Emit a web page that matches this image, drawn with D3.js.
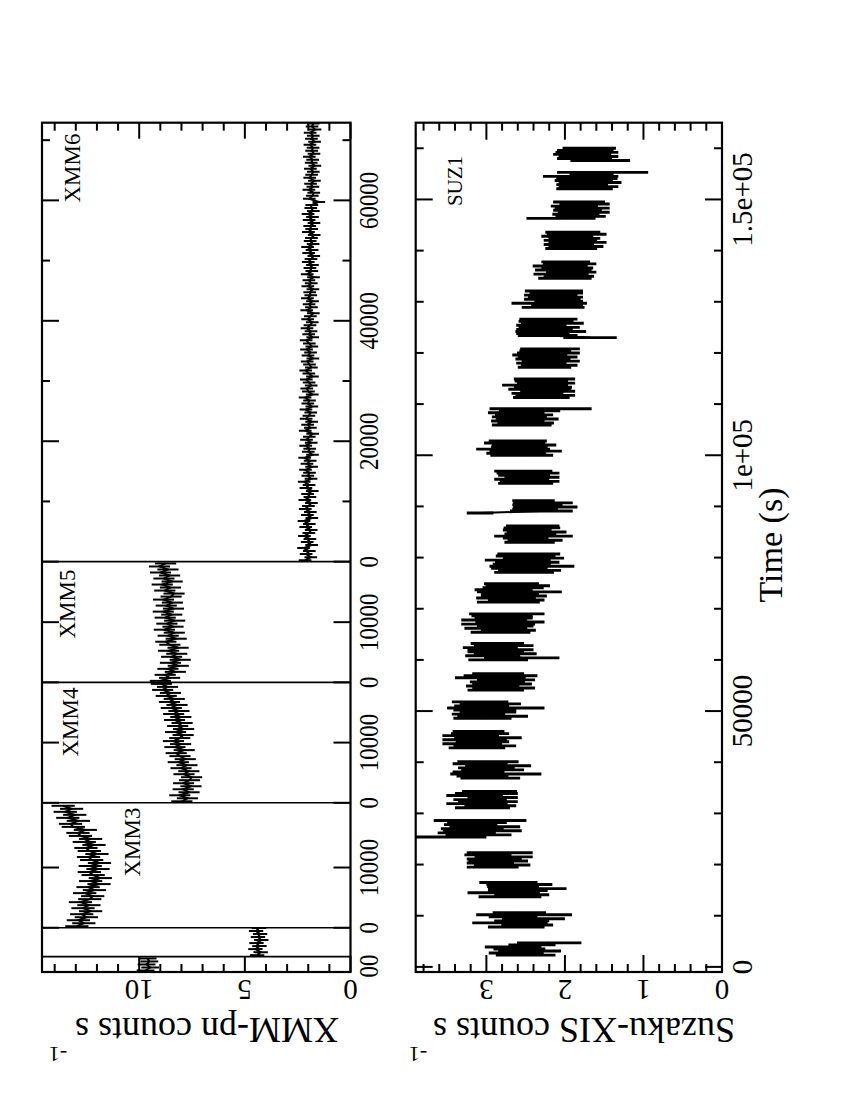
<!DOCTYPE html>
<html><head><meta charset="utf-8">
<script src="https://cdn.jsdelivr.net/npm/d3@7"></script>
<style>body{margin:0;background:#fff} svg{display:block}</style>
</head><body><svg id="c" width="850" height="1100"></svg>
<script>
// ---------------- DATA ----------------
// XMM-Newton pn light curves (counts/s), one array per observation, 500 s bins
const xmmNames = ["XMM1","XMM2","XMM3","XMM4","XMM5","XMM6"];
const xmmSpan  = [2550, 4800, 20750, 20000, 20050, 72900];   // time-axis length of each sub-panel (s)
const xmmBin   = 500;
const xmmErr   = [0.42, 0.34, 0.55, 0.50, 0.50, 0.30];
const xmm1 = [9.70, 9.48, 9.65, 9.52, 9.60];
const xmm2 = [4.42, 4.25, 4.50, 4.31, 4.45, 4.22, 4.38, 4.28, 4.47, 4.33];
const xmm3 = [12.95, 12.62, 12.88, 12.50, 12.72, 12.30, 12.66, 12.38, 12.78, 12.34,
              12.20, 12.58, 12.12, 12.42, 11.90, 12.30, 11.84, 12.18, 12.36, 11.95,
              12.32, 11.88, 12.25, 12.40, 12.00, 12.36, 12.52, 12.14, 12.60, 12.30,
              12.78, 12.90, 12.55, 13.12, 13.25, 12.88, 13.38, 13.05, 13.50, 13.20, 13.60];
const xmm4 = [7.98, 7.72, 8.08, 7.64, 7.92, 7.55, 7.90, 7.62, 7.52, 7.88,
              7.65, 8.02, 7.74, 8.15, 7.82, 8.07, 8.25, 7.87, 8.31, 8.04,
              8.38, 8.08, 7.92, 8.28, 7.90, 8.18, 7.97, 8.33, 8.03, 8.37,
              8.12, 8.48, 8.21, 8.57, 8.34, 8.72, 8.52, 8.89, 8.66, 8.95];
const xmm5 = [9.00, 8.56, 8.77, 8.29, 8.64, 8.15, 8.52, 8.06, 8.47, 8.22,
              8.61, 8.16, 8.55, 8.74, 8.25, 8.63, 8.34, 8.81, 8.40, 8.69,
              8.32, 8.77, 8.46, 8.86, 8.38, 8.72, 8.43, 8.85, 8.49, 8.35,
              8.79, 8.52, 8.91, 8.44, 8.83, 8.56, 8.99, 8.64, 9.04, 8.75];
const xmm6 = [2.15, 1.88, 2.10, 1.95, 2.22, 1.84, 2.05, 1.92, 2.18, 1.97,
              1.86, 2.12, 1.95, 2.20, 1.83, 2.04, 1.90, 2.14, 1.99, 1.85,
              2.16, 1.92, 2.03, 1.81, 2.11, 1.96, 2.19, 1.87, 2.02, 1.94,
              2.13, 1.84, 2.06, 1.91, 2.17, 1.80, 2.00, 1.93, 2.12, 1.86,
              2.08, 1.95, 1.79, 2.14, 1.90, 2.03, 1.84, 2.10, 1.97, 1.88,
              2.11, 1.83, 2.02, 1.94, 2.15, 1.81, 1.99, 2.07, 1.86, 1.96,
              2.09, 1.80, 1.97, 2.12, 1.85, 1.94, 2.05, 1.78, 2.01, 1.89,
              2.08, 1.83, 1.95, 2.10, 1.79, 1.98, 1.87, 2.06, 1.92, 1.81,
              2.03, 1.90, 1.76, 2.07, 1.85, 1.96, 1.80, 2.04, 1.88, 1.93,
              1.78, 2.02, 1.86, 1.97, 1.75, 2.05, 1.83, 1.92, 1.80, 2.00,
              1.87, 1.74, 1.98, 1.82, 2.03, 1.77, 1.91, 1.85, 1.72, 1.99,
              1.84, 1.93, 1.73, 1.96, 1.80, 2.01, 1.76, 1.88, 1.83, 1.50,
              1.95, 1.81, 1.74, 1.97, 1.78, 1.89, 1.71, 1.93, 1.84, 1.76,
              1.90, 1.69, 1.86, 1.79, 1.95, 1.73, 1.84, 1.77, 1.92, 1.70,
              1.85, 1.76, 1.91, 1.68, 1.82, 1.77];
const xmmSeries = [xmm1, xmm2, xmm3, xmm4, xmm5, xmm6];

// XMM time-axis ticks per sub-panel
const xmmMajor = [[], [], [0, 10000], [0, 10000], [0, 10000], [0, 20000, 40000, 60000]];
const xmmMinor = [[], [], [], [], [], [10000, 30000, 50000, 70000]];
const xmmTickLabels = [[], [], ["0","10000"], ["0","10000"], ["0","10000"], ["0","20000","40000","60000"]];
const xmmClipLabel = {seg: 0, t: 1000, text: "00"};
const xmmRateDomain = [0, 14.6];
const xmmRateMajor = [0, 5, 10];
const xmmRateMinor = [1, 2, 3, 4, 6, 7, 8, 9, 11, 12, 13, 14];
const xmmRateLabels = ["0", "5", "10"];

// Suzaku XIS light curve: one array per orbit-block, 400 s bins
const suzBin = 400;
const suzStart = [2300, 7800, 13700, 19500, 25400, 31100, 36900, 42800, 48600, 54100,
                  60000, 65400, 71300, 77100, 83000, 88700, 94500, 100000, 105900, 111300,
                  117200, 123000, 128900, 134600, 140400, 146300, 152100, 157600];
const suzRate = [
  [2.50, 2.62, 2.45, 2.58, 2.66, 2.42, 2.20],
  [2.62, 2.48, 2.70, 2.55, 2.40, 2.66, 2.52, 2.58],
  [2.70, 2.55, 2.78, 2.60, 2.48, 2.66, 2.58, 2.72],
  [2.92, 2.80, 2.95, 2.85, 2.90, 2.78, 2.98, 2.83],
  [3.45, 3.10, 3.25, 3.05, 3.18, 3.02, 3.20, 3.12, 3.08],
  [3.05, 2.95, 3.12, 2.98, 3.08, 2.92, 3.15, 3.00, 2.96],
  [2.95, 3.05, 2.88, 3.10, 2.92, 3.00, 2.85, 3.08, 2.98],
  [3.12, 3.02, 3.18, 3.05, 3.15, 2.98, 3.20, 3.08, 3.10],
  [3.05, 2.92, 3.10, 2.98, 3.02, 2.88, 3.06, 2.95, 3.08],
  [2.88, 2.78, 2.92, 2.80, 2.86, 2.75, 2.95, 2.82, 2.85],
  [2.85, 2.55, 2.92, 2.76, 2.88, 2.82, 2.95, 2.78, 2.86],
  [2.82, 2.72, 2.88, 2.76, 2.85, 2.70, 2.90, 2.78, 2.80, 2.74],
  [2.72, 2.62, 2.75, 2.65, 2.70, 2.58, 2.78, 2.66, 2.60, 2.68],
  [2.52, 2.45, 2.58, 2.42, 2.55, 2.48, 2.60, 2.40, 2.50, 2.46],
  [2.45, 2.38, 2.50, 2.40, 2.44, 2.36, 2.48, 2.42, 2.41],
  [3.08, 2.30, 2.38, 2.25, 2.35, 2.28, 2.40],
  [2.50, 2.45, 2.55, 2.42, 2.52, 2.47, 2.53],
  [2.55, 2.62, 2.50, 2.66, 2.58, 2.52, 2.64, 2.60],
  [2.55, 2.50, 2.60, 2.48, 2.58, 2.52, 2.62, 2.45, 2.31],
  [2.30, 2.25, 2.35, 2.22, 2.32, 2.28, 2.38, 2.24, 2.30, 2.26],
  [2.26, 2.20, 2.30, 2.18, 2.28, 2.22, 2.32, 2.21, 2.25, 2.19],
  [1.68, 2.22, 2.28, 2.18, 2.26, 2.20, 2.30, 2.16, 2.24, 2.21],
  [2.15, 2.10, 2.20, 2.08, 2.16, 2.12, 2.18, 2.11, 2.14],
  [2.00, 1.95, 2.05, 1.92, 2.02, 1.97, 2.06, 1.94, 1.99],
  [1.92, 1.86, 1.95, 1.84, 1.93, 1.88, 1.97, 1.85, 1.90],
  [2.05, 1.80, 1.86, 1.76, 1.84, 1.78, 1.88, 1.75, 1.82],
  [1.75, 1.70, 1.78, 1.68, 1.76, 1.72, 1.80, 1.66, 1.52],
  [1.55, 1.75, 1.70, 1.78, 1.72, 1.74, 1.69]
];
const suzErr = [
  [0.38, 0.35, 0.40, 0.33, 0.36, 0.30, 0.41],
  [0.36, 0.33, 0.48, 0.35, 0.40, 0.31, 0.61, 0.34],
  [0.40, 0.35, 0.46, 0.38, 0.50, 0.33, 0.42, 0.37],
  [0.33, 0.36, 0.30, 0.38, 0.35, 0.37, 0.30, 0.42],
  [0.45, 0.42, 0.37, 0.50, 0.40, 0.45, 0.34, 0.38, 0.59],
  [0.35, 0.33, 0.39, 0.38, 0.34, 0.32, 0.36, 0.40, 0.35],
  [0.38, 0.33, 0.58, 0.33, 0.40, 0.36, 0.42, 0.35, 0.39],
  [0.36, 0.40, 0.38, 0.34, 0.41, 0.43, 0.36, 0.37, 0.33],
  [0.37, 0.45, 0.34, 0.36, 0.40, 0.62, 0.35, 0.39, 0.36],
  [0.36, 0.40, 0.34, 0.38, 0.35, 0.37, 0.45, 0.47, 0.33],
  [0.38, 0.48, 0.35, 0.40, 0.36, 0.42, 0.35, 0.38, 0.34],
  [0.38, 0.35, 0.40, 0.36, 0.47, 0.44, 0.42, 0.37, 0.39, 0.48],
  [0.40, 0.36, 0.38, 0.42, 0.37, 0.54, 0.37, 0.39, 0.41, 0.35],
  [0.38, 0.40, 0.36, 0.54, 0.37, 0.41, 0.42, 0.39, 0.38, 0.40],
  [0.32, 0.35, 0.29, 0.50, 0.33, 0.38, 0.31, 0.36, 0.34],
  [0.17, 0.40, 0.29, 0.41, 0.32, 0.38, 0.27],
  [0.35, 0.38, 0.35, 0.35, 0.33, 0.40, 0.37],
  [0.40, 0.38, 0.46, 0.47, 0.36, 0.41, 0.39, 0.37],
  [0.38, 0.36, 0.34, 0.40, 0.35, 0.37, 0.36, 0.39, 0.65],
  [0.36, 0.38, 0.33, 0.35, 0.40, 0.37, 0.42, 0.37, 0.34, 0.39],
  [0.34, 0.36, 0.32, 0.37, 0.35, 0.38, 0.35, 0.40, 0.33, 0.38],
  [0.34, 0.38, 0.34, 0.45, 0.36, 0.39, 0.32, 0.40, 0.35, 0.37],
  [0.40, 0.33, 0.48, 0.31, 0.36, 0.35, 0.34, 0.34, 0.37],
  [0.34, 0.32, 0.35, 0.32, 0.36, 0.33, 0.35, 0.34, 0.31],
  [0.33, 0.35, 0.32, 0.37, 0.34, 0.33, 0.33, 0.38, 0.35],
  [0.44, 0.32, 0.30, 0.33, 0.31, 0.35, 0.30, 0.32, 0.33],
  [0.36, 0.38, 0.33, 0.40, 0.37, 0.39, 0.48, 0.28, 0.58],
  [0.38, 0.35, 0.38, 0.37, 0.40, 0.36, 0.34]
];
const suzTimeDomain = [-1000, 165000];
const suzTimeMajor = [0, 50000, 100000, 150000];
const suzTimeLabels = ["0", "50000", "1e+05", "1.5e+05"];
const suzTimeMinor = [10000, 20000, 30000, 40000, 60000, 70000, 80000, 90000, 110000, 120000, 130000, 140000, 160000];
const suzRateDomain = [0, 3.9];
const suzRateMajor = [0, 1, 2, 3];
const suzRateLabels = ["0", "1", "2", "3"];
const suzRateMinor = [0.2, 0.4, 0.6, 0.8, 1.2, 1.4, 1.6, 1.8, 2.2, 2.4, 2.6, 2.8, 3.2, 3.4, 3.6, 3.8];

// ---------------- DRAWING ----------------
const FONT = "'Liberation Serif', 'Times New Roman', serif";
const svg = d3.select("#c");
svg.append("rect").attr("width", 850).attr("height", 1100).attr("fill", "#fff");

const P1 = {x0: 42, x1: 350.5, y0: 122.7, y1: 972};
const P2 = {x0: 415.7, x1: 722, y0: 122.7, y1: 972};

const xX = d3.scaleLinear().domain(xmmRateDomain).range([P1.x1, P1.x0]);
const xS = d3.scaleLinear().domain(suzRateDomain).range([P2.x1, P2.x0]);
const yS = d3.scaleLinear().domain(suzTimeDomain).range([P2.y1, P2.y0]);

const total = d3.sum(xmmSpan);
const yOuter = d3.scaleLinear().domain([0, total]).range([P1.y1, P1.y0]);
let cum = 0;
const segY = xmmSpan.map(s => {
  const sc = d3.scaleLinear().domain([0, s]).range([yOuter(cum), yOuter(cum + s)]);
  cum += s; return sc;
});

const defs = svg.append("defs");
defs.append("clipPath").attr("id", "clip1").append("rect")
  .attr("x", P1.x0).attr("y", P1.y0).attr("width", P1.x1 - P1.x0).attr("height", P1.y1 - P1.y0);
defs.append("clipPath").attr("id", "clip2").append("rect")
  .attr("x", P2.x0).attr("y", P2.y0).attr("width", P2.x1 - P2.x0).attr("height", P2.y1 - P2.y0);

// --- XMM data ---
const g1 = svg.append("g").attr("clip-path", "url(#clip1)");
xmmSeries.forEach((arr, k) => {
  const ys = segY[k];
  const pts = arr.map((r, i) => ({t: xmmBin / 2 + i * xmmBin, r}));
  g1.append("path").datum(pts)
    .attr("d", d3.line().x(d => xX(d.r)).y(d => ys(d.t)))
    .attr("fill", "none").attr("stroke", "#000").attr("stroke-width", 2);
  g1.selectAll(null).data(pts).enter().append("line")
    .attr("x1", d => xX(d.r - xmmErr[k])).attr("x2", d => xX(d.r + xmmErr[k]))
    .attr("y1", d => ys(d.t)).attr("y2", d => ys(d.t))
    .attr("stroke", "#000").attr("stroke-width", 2);
});

// --- Suzaku data ---
const g2 = svg.append("g").attr("clip-path", "url(#clip2)");
suzRate.forEach((blk, b) => {
  const pts = blk.map((r, i) => ({t: suzStart[b] + i * suzBin, r, e: suzErr[b][i]}));
  g2.append("path").datum(pts)
    .attr("d", d3.line().x(d => xS(d.r)).y(d => yS(d.t)))
    .attr("fill", "none").attr("stroke", "#000").attr("stroke-width", 2);
  g2.selectAll(null).data(pts).enter().append("line")
    .attr("x1", d => xS(d.r - d.e)).attr("x2", d => xS(d.r + d.e))
    .attr("y1", d => yS(d.t)).attr("y2", d => yS(d.t))
    .attr("stroke", "#000").attr("stroke-width", 2.9);
});

// --- Frames, separators, ticks ---
const ax = svg.append("g").attr("stroke", "#000").attr("fill", "none");
const MAJ = 17, MIN = 8;
function hline(x1, x2, y, w) { ax.append("line").attr("x1", x1).attr("x2", x2).attr("y1", y).attr("y2", y).attr("stroke-width", w); }
function vline(x, y1, y2, w) { ax.append("line").attr("x1", x).attr("x2", x).attr("y1", y1).attr("y2", y2).attr("stroke-width", w); }

// XMM separators between observations
segY.forEach((sc, k) => { if (k > 0) hline(P1.x0, P1.x1, sc(0), 1.6); });

// XMM time ticks on both vertical edges
segY.forEach((sc, k) => {
  xmmMajor[k].forEach(t => { hline(P1.x0, P1.x0 + MAJ, sc(t), 2); hline(P1.x1 - MAJ, P1.x1, sc(t), 2); });
  xmmMinor[k].forEach(t => { hline(P1.x0, P1.x0 + MIN, sc(t), 2); hline(P1.x1 - MIN, P1.x1, sc(t), 2); });
});
// XMM rate ticks on top & bottom edges
xmmRateMajor.forEach(v => { vline(xX(v), P1.y1 - 16, P1.y1, 2); vline(xX(v), P1.y0, P1.y0 + 16, 2); });
xmmRateMinor.forEach(v => { vline(xX(v), P1.y1 - MIN, P1.y1, 2); vline(xX(v), P1.y0, P1.y0 + MIN, 2); });

// Suzaku ticks
suzTimeMajor.forEach(t => { hline(P2.x0, P2.x0 + MAJ, yS(t), 2); hline(P2.x1 - MAJ, P2.x1, yS(t), 2); });
suzTimeMinor.forEach(t => { hline(P2.x0, P2.x0 + MIN, yS(t), 2); hline(P2.x1 - MIN, P2.x1, yS(t), 2); });
suzRateMajor.forEach(v => { vline(xS(v), P2.y1 - MAJ, P2.y1, 2); vline(xS(v), P2.y0, P2.y0 + MAJ, 2); });
suzRateMinor.forEach(v => { vline(xS(v), P2.y1 - MIN, P2.y1, 2); vline(xS(v), P2.y0, P2.y0 + MIN, 2); });

// frames
[P1, P2].forEach(P => ax.append("rect").attr("x", P.x0).attr("y", P.y0)
  .attr("width", P.x1 - P.x0).attr("height", P.y1 - P.y0).attr("stroke-width", 2.2));

// --- Text ---
const tx = svg.append("g").attr("font-family", FONT).attr("fill", "#000");
function rtext(x, y, rot, size, str, anchor, extra) {
  return tx.append("text")
    .attr("transform", `translate(${x},${y}) rotate(${rot})${extra || ""}`)
    .attr("font-size", size).attr("text-anchor", anchor || "middle").text(str);
}
// XMM time tick labels (read upward)
segY.forEach((sc, k) => {
  xmmMajor[k].forEach((t, i) => rtext(378, sc(t), -90, 23, xmmTickLabels[k][i], "middle", " scale(1,1.15)"));
});
rtext(378, segY[xmmClipLabel.seg](xmmClipLabel.t), -90, 23, xmmClipLabel.text, "middle", " scale(1,1.15)");
// Suzaku time tick labels
suzTimeMajor.forEach((t, i) => rtext(752, yS(t), -90, 29, suzTimeLabels[i]));
// rate tick labels (upside down)
xmmRateMajor.forEach((v, i) => rtext(xX(v), 980, 180, 29, xmmRateLabels[i]));
suzRateMajor.forEach((v, i) => rtext(xS(v), 980, 180, 29, suzRateLabels[i]));
// axis titles
rtext(207, 1018, 180, 36, "XMM-pn counts s");
rtext(58, 1047, 180, 22, "-1");
rtext(584, 1018, 180, 36, "Suzaku-XIS counts s");
rtext(418, 1047, 180, 22, "-1");
rtext(782, 545, -90, 34, "Time (s)");
// observation labels
const obsLabelPos = [null, null, [140, 842], [78, 722], [75, 604], [80, 168]];
xmmNames.forEach((n, k) => { if (obsLabelPos[k]) rtext(obsLabelPos[k][0], obsLabelPos[k][1], -90, 23, n); });
rtext(462, 181, -90, 21, "SUZ1");
</script></body></html>
